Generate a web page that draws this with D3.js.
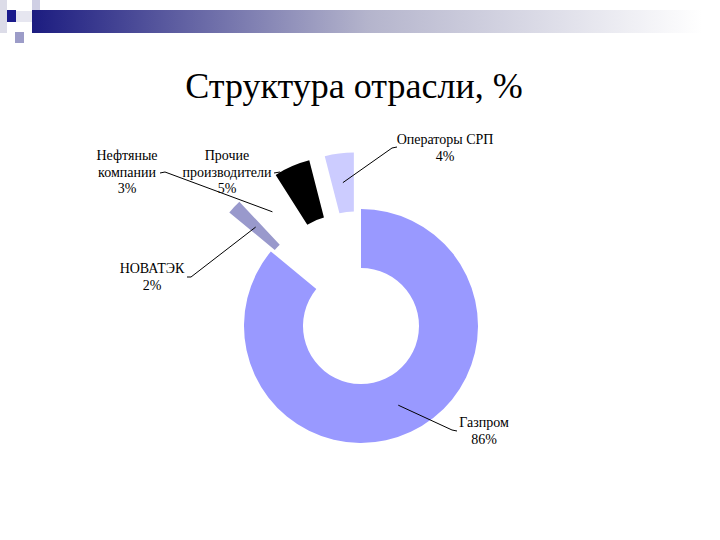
<!DOCTYPE html>
<html>
<head>
<meta charset="utf-8">
<script src="https://cdn.jsdelivr.net/npm/d3@7"></script>
<style>
  body { margin: 0; background: #fff; }
  svg { display: block; }
  text { font-family: "Liberation Serif", "Times New Roman", serif; fill: #000; }
</style>
</head>
<body>
<div id="chart"></div>
<script>
const w = 720, h = 540;

// data
const companies = ["Газпром", "НОВАТЭК", "Нефтяные\nкомпании", "Прочие\nпроизводители", "Операторы СРП"];
const shares = [86, 2, 3, 5, 4];
const colors = ["#9999ff", "#9999cc", "#ffffff", "#000000", "#ccccff"];

const cx = 361, cy = 326;
const outerR = 117, innerR = 58;
const explode = 57; // all slices except the first are pulled out

// where each label sits (centre of first line baseline) and the elbow of its leader line
const labelPos = [
  { x: 484, y: 427, leader: [[452, 430], [457, 431]] },
  { x: 152, y: 273, leader: [[191, 277], [187, 277]] },
  { x: 127, y: 160, leader: [[165, 172], [160, 173]] },
  { x: 227, y: 160, leader: [[280, 172], [274, 173]] },
  { x: 445, y: 144, leader: [[392, 148], [397, 147]] }
];

const svg = d3.select("#chart")
  .append("svg")
  .attr("width", w)
  .attr("height", h);

// slide decoration at the top
const defs = svg.append("defs");
const grad = defs.append("linearGradient").attr("id", "bar");
grad.append("stop").attr("offset", "0%").attr("stop-color", "#1c1c80");
grad.append("stop").attr("offset", "50%").attr("stop-color", "#b4b4cc");
grad.append("stop").attr("offset", "100%").attr("stop-color", "#ffffff");

svg.append("rect").attr("x", 0).attr("y", 0).attr("width", 7).attr("height", 33).attr("fill", "#dcdce8");
svg.append("rect").attr("x", 32).attr("y", 0).attr("width", 8).attr("height", 11).attr("fill", "#cfcfe4");
svg.append("rect").attr("x", 16).attr("y", 11).attr("width", 16).attr("height", 11).attr("fill", "#e6e6f0");
svg.append("rect").attr("x", 32).attr("y", 10).attr("width", 670).attr("height", 23).attr("fill", "url(#bar)");
svg.append("rect").attr("x", 7).attr("y", 10).attr("width", 9).attr("height", 12).attr("fill", "#1a1a8c");
svg.append("rect").attr("x", 15).attr("y", 32).attr("width", 9).attr("height", 11).attr("fill", "#9c9cc8");

svg.append("text")
  .attr("x", 354)
  .attr("y", 98)
  .attr("text-anchor", "middle")
  .style("font-size", "36px")
  .text("Структура отрасли, %");

const pie = d3.pie().sort(null).value(d => d);
const arcs = pie(shares);
const arc = d3.arc().innerRadius(innerR).outerRadius(outerR);

function shift(d, i) {
  if (i === 0) return [0, 0];
  const a = (d.startAngle + d.endAngle) / 2;
  return [explode * Math.sin(a), -explode * Math.cos(a)];
}

const g = svg.append("g").attr("transform", "translate(" + cx + "," + cy + ")");

g.selectAll("path.slice")
  .data(arcs)
  .enter()
  .append("path")
  .attr("class", "slice")
  .attr("transform", (d, i) => "translate(" + shift(d, i) + ")")
  .attr("d", arc)
  .attr("fill", (d, i) => colors[i]);

// leader lines from slice centroid to label
const line = d3.line();
svg.selectAll("path.leader")
  .data(arcs)
  .enter()
  .append("path")
  .attr("class", "leader")
  .attr("fill", "none")
  .attr("stroke", "#000")
  .attr("stroke-width", 1)
  .attr("d", (d, i) => {
    const c = arc.centroid(d), s = shift(d, i);
    const start = [cx + c[0] + s[0], cy + c[1] + s[1]];
    return line([start].concat(labelPos[i].leader));
  });

const labels = svg.selectAll("text.lbl")
  .data(arcs)
  .enter()
  .append("text")
  .attr("class", "lbl")
  .attr("text-anchor", "middle")
  .style("font-size", "14px");

labels.each(function(d, i) {
  const rows = companies[i].split("\n").concat([shares[i] + "%"]);
  d3.select(this).selectAll("tspan")
    .data(rows)
    .enter()
    .append("tspan")
    .attr("x", labelPos[i].x)
    .attr("y", (r, k) => labelPos[i].y + k * 16.6)
    .text(r => r);
});
</script>
</body>
</html>
